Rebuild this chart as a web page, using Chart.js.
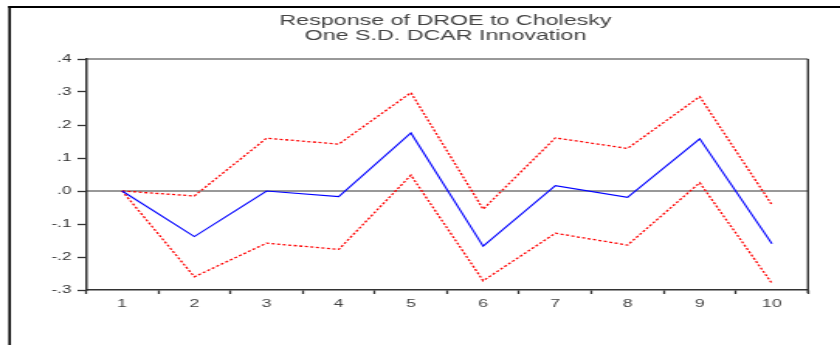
<!DOCTYPE html>
<html lang="en">
<head>
    <meta charset="UTF-8">
    <title>Response of DROE to Cholesky</title>
    <script src="https://cdn.jsdelivr.net/npm/chart.js"></script>
    <style>
        html, body { margin: 0; padding: 0; background: #fff; overflow: hidden; }
        /* the source graph is stretched sideways, so draw narrow and stretch */
        .wrap { width: 542px; height: 345px; transform: scaleX(1.55); transform-origin: 0 0; }
    </style>
</head>
<body>
    <div class="wrap">
        <canvas id="irfChart" width="542" height="345"></canvas>
    </div>

    <script>
        const titleLines = ['Response of DROE to Cholesky', 'One S.D. DCAR Innovation'];
        const periods = ['1', '2', '3', '4', '5', '6', '7', '8', '9', '10'];
        const response = [0.0, -0.138, 0.0, -0.017, 0.176, -0.167, 0.016, -0.019, 0.158, -0.160];
        const upperBand = [0.0, -0.015, 0.160, 0.142, 0.298, -0.055, 0.161, 0.129, 0.286, -0.042];
        const lowerBand = [0.0, -0.260, -0.158, -0.177, 0.048, -0.272, -0.128, -0.164, 0.025, -0.280];

        const fontFamily = '"Liberation Sans", Arial, sans-serif';

        // frame, zero line and two-line title
        const framePlugin = {
            id: 'frame',
            beforeDatasetsDraw(chart) {
                const { ctx, chartArea: a, scales } = chart;
                const y0 = scales.y.getPixelForValue(0);
                ctx.save();
                ctx.strokeStyle = '#333';
                ctx.lineWidth = 1;
                ctx.beginPath();
                ctx.moveTo(a.left, y0);
                ctx.lineTo(a.right, y0);
                ctx.moveTo(a.left, a.top);
                ctx.lineTo(a.right, a.top);
                ctx.stroke();
                ctx.lineWidth = 1.4;
                ctx.beginPath();
                ctx.moveTo(a.right, a.top);
                ctx.lineTo(a.right, a.bottom + 3);
                ctx.stroke();
                ctx.restore();
            },
            afterDraw(chart) {
                const { ctx, chartArea: a } = chart;
                ctx.save();
                ctx.strokeStyle = '#000';
                ctx.lineWidth = 2;
                ctx.beginPath();
                ctx.moveTo(5.3, 7);
                ctx.lineTo(542, 7);
                ctx.stroke();
                ctx.lineWidth = 1.6;
                ctx.beginPath();
                ctx.moveTo(6.2, 6);
                ctx.lineTo(6.2, 345);
                ctx.stroke();

                ctx.fillStyle = '#444';
                ctx.font = '15px ' + fontFamily;
                ctx.textAlign = 'center';
                ctx.textBaseline = 'alphabetic';
                const cx = (a.left + a.right) / 2 - 1;
                ctx.fillText(titleLines[0], cx, 24.5);
                ctx.fillText(titleLines[1], cx, 40);
                ctx.restore();
            }
        };

        new Chart(document.getElementById('irfChart'), {
            type: 'line',
            data: {
                labels: periods,
                datasets: [{
                    label: 'Response',
                    data: response,
                    borderColor: '#0000ff',
                    borderWidth: 1.1,
                    pointRadius: 0,
                    tension: 0
                }, {
                    label: '+2 S.E.',
                    data: upperBand,
                    borderColor: '#ff0000',
                    borderWidth: 1.3,
                    borderDash: [2, 1.6],
                    pointRadius: 0,
                    tension: 0
                }, {
                    label: '-2 S.E.',
                    data: lowerBand,
                    borderColor: '#ff0000',
                    borderWidth: 1.3,
                    borderDash: [2, 1.6],
                    pointRadius: 0,
                    tension: 0
                }]
            },
            options: {
                responsive: false,
                animation: false,
                devicePixelRatio: 1,
                layout: {
                    padding: { top: 59, right: 20.7, left: 0, bottom: 0 }
                },
                plugins: {
                    legend: { display: false },
                    title: { display: false },
                    tooltip: { enabled: false }
                },
                scales: {
                    x: {
                        offset: true,
                        afterFit(scale) { scale.height = 55; },
                        grid: {
                            offset: true,
                            drawOnChartArea: false,
                            drawTicks: true,
                            tickLength: 4,
                            tickColor: '#333',
                            tickWidth: 1.3
                        },
                        border: { display: true, color: '#333', width: 1.4 },
                        ticks: {
                            color: '#444',
                            padding: 3,
                            maxRotation: 0,
                            font: { family: fontFamily, size: 11.5 }
                        }
                    },
                    y: {
                        min: -0.3,
                        max: 0.4,
                        afterFit(scale) { scale.width = 55.5; },
                        grid: {
                            drawOnChartArea: false,
                            drawTicks: true,
                            tickLength: 5.5,
                            tickColor: '#333',
                            tickWidth: 1.3
                        },
                        border: { display: true, color: '#333', width: 1.5 },
                        ticks: {
                            stepSize: 0.1,
                            color: '#333',
                            padding: 4,
                            font: { family: fontFamily, size: 11 },
                            callback: v => Number(v).toFixed(1).replace('0.', '.')
                        }
                    }
                }
            },
            plugins: [framePlugin]
        });
    </script>
</body>
</html>
